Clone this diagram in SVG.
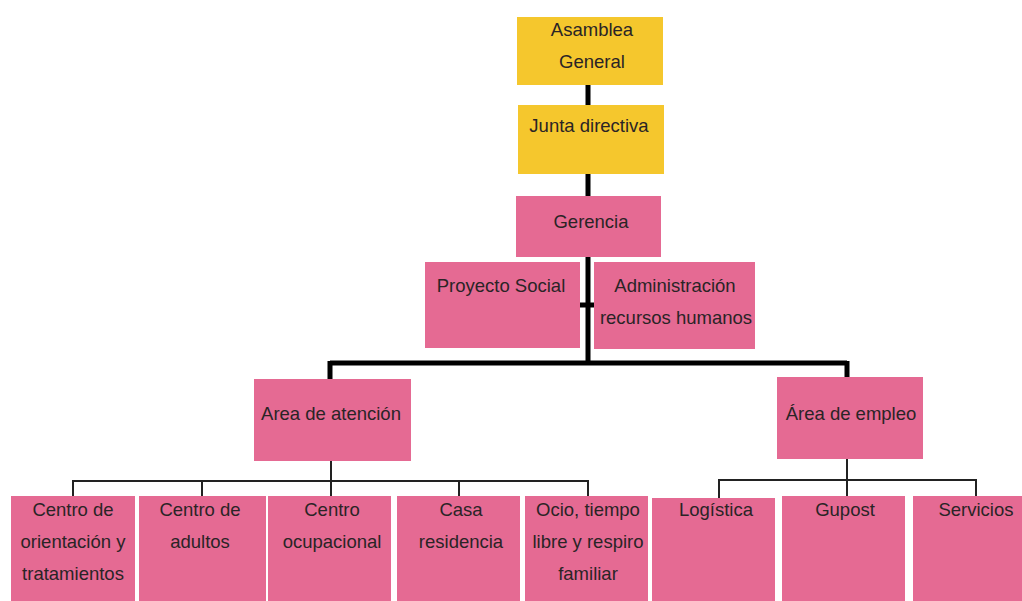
<svg xmlns="http://www.w3.org/2000/svg" width="1022" height="601" viewBox="0 0 1022 601">
<style>
.y{fill:#F5C72D}
.p{fill:#E56A93}
text{font-family:"Liberation Sans",Arial,sans-serif;font-size:18.5px;fill:#2a2426;text-anchor:middle}
.thick{stroke:#000;stroke-width:5;fill:none}
.thin{stroke:#222;stroke-width:2;fill:none}
</style>
<rect width="1022" height="601" fill="#fff"/>
<g id="connectors">
<path class="thick" d="M588 85V105M588 174V197M588 257V363M580 305H594M330 363H847M330 361V379M847 361V377"/>
<path class="thin" d="M331 461V481M73 481H588M73 480V496M202 480V496M331 480V496M459 480V496M588 480V496"/>
<path class="thin" d="M847 459V480M719 480H976M719 479V498M847 479V496M976 479V496"/>
</g>
<g id="asamblea"><rect class="y" x="517" y="17" width="146" height="68"/><text x="592" y="36">Asamblea</text><text x="592" y="68">General</text></g>
<g id="junta"><rect class="y" x="518" y="105" width="146" height="69"/><text x="589" y="132">Junta directiva</text></g>
<g id="gerencia"><rect class="p" x="516" y="196" width="145" height="61"/><text x="591" y="228">Gerencia</text></g>
<g id="proyecto"><rect class="p" x="425" y="262" width="155" height="86"/><text x="501" y="292">Proyecto Social</text></g>
<g id="admin"><rect class="p" x="594" y="262" width="161" height="87"/><text x="675" y="292">Administración</text><text x="676" y="324">recursos humanos</text></g>
<g id="atencion"><rect class="p" x="254" y="379" width="157" height="82"/><text x="331" y="420">Area de atención</text></g>
<g id="empleo"><rect class="p" x="777" y="377" width="146" height="82"/><text x="851" y="420">Área de empleo</text></g>
<g id="orientacion"><rect class="p" x="11" y="496" width="124" height="105"/><text x="73" y="516">Centro de</text><text x="73" y="548">orientación y</text><text x="73" y="580">tratamientos</text></g>
<g id="adultos"><rect class="p" x="139" y="496" width="127" height="105"/><text x="200" y="516">Centro de</text><text x="200" y="548">adultos</text></g>
<g id="ocupacional"><rect class="p" x="268" y="496" width="123" height="105"/><text x="332" y="516">Centro</text><text x="332" y="548">ocupacional</text></g>
<g id="casa"><rect class="p" x="397" y="496" width="123" height="105"/><text x="461" y="516">Casa</text><text x="461" y="548">residencia</text></g>
<g id="ocio"><rect class="p" x="525" y="496" width="123" height="105"/><text x="588" y="516">Ocio, tiempo</text><text x="588" y="548">libre y respiro</text><text x="588" y="580">familiar</text></g>
<g id="logistica"><rect class="p" x="652" y="498" width="123" height="103"/><text x="716" y="516">Logística</text></g>
<g id="gupost"><rect class="p" x="782" y="496" width="123" height="105"/><text x="845" y="516">Gupost</text></g>
<g id="servicios"><rect class="p" x="913" y="496" width="109" height="105"/><text x="976" y="516">Servicios</text></g>
</svg>
